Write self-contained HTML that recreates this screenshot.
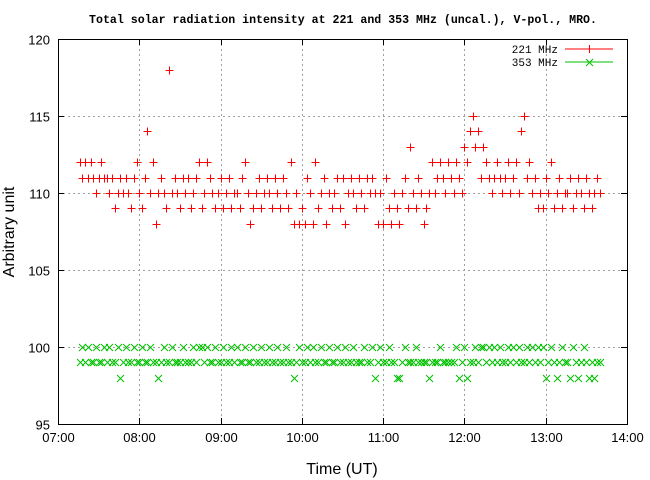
<!DOCTYPE html>
<html><head><meta charset="utf-8"><style>
html,body{margin:0;padding:0;background:#fff;}
svg{display:block;font-family:"Liberation Sans",sans-serif;}
</style></head><body>
<svg id="chart" width="650" height="480" viewBox="0 0 650 480">
<rect x="0" y="0" width="650" height="480" fill="#fff"/>
<text x="343" y="23" text-anchor="middle" font-family="Liberation Mono, monospace" font-weight="bold" font-size="11.6">Total solar radiation intensity at 221 and 353 MHz (uncal.), V-pol., MRO.</text>
<g id="grid"></g>
<g id="axes"></g>
<g id="s353"></g>
<g id="s221"></g>
<text transform="translate(14,232) rotate(-90)" text-anchor="middle" font-size="16">Arbitrary unit</text>
<text x="342" y="474" text-anchor="middle" font-size="16">Time (UT)</text>
<g>
<g>
<text x="558" y="53" text-anchor="end" font-family="Liberation Mono, monospace" font-size="11">221 MHz</text>
<line x1="565" y1="49" x2="613" y2="49" stroke="#ff0000"/>
<path d="M585.5 49h8M589.5 45v8" stroke="#ff0000"/>
</g>
<g>
<text x="558" y="66" text-anchor="end" font-family="Liberation Mono, monospace" font-size="11">353 MHz</text>
<line x1="565" y1="62" x2="613" y2="62" stroke="#00c000"/>
<path d="M586 59l7 7M586 66l7 -7" stroke="#00c000"/>
</g>
</g>
</svg>
<script>
const yTicks=[95,100,105,110,115,120];
const xTickLabels=["07:00","08:00","09:00","10:00","11:00","12:00","13:00","14:00"];
const startMinute=7*60+16;
const stepMinutes=2;
const red221=[112,111,112,111,112,111,110,111,112,111,
111,110,111,109,110,111,110,111,110,109,
111,112,110,109,111,114,110,112,108,110,
111,110,109,118,110,111,110,109,111,110,
111,109,110,111,112,109,110,112,111,110,
109,110,111,109,110,111,109,110,110,109,
111,112,110,108,109,110,111,109,110,111,
110,109,111,110,109,111,110,109,112,108,
110,108,109,108,111,110,108,112,109,110,
111,108,110,109,110,111,109,111,108,110,
111,110,109,111,110,109,111,110,111,110,
108,110,108,111,109,108,110,109,108,110,
111,109,113,110,109,111,110,108,109,110,
112,110,111,112,111,110,112,111,110,112,
111,110,113,112,114,115,113,114,111,113,
112,111,110,111,112,111,110,111,112,110,
111,112,110,114,115,111,112,110,111,109,
110,109,111,110,112,109,110,111,109,110,
110,111,109,110,111,110,109,111,110,109,
110,111,110];
const green353=[99,100,99,100,99,99,100,99,99,100,
99,100,99,99,100,98,99,100,99,99,
100,99,99,100,99,99,100,99,99,98,
99,100,99,99,100,99,99,99,100,99,
99,99,100,99,100,100,99,100,99,99,
100,99,99,100,99,99,100,99,100,99,
99,100,99,99,100,99,99,100,99,99,
100,99,99,100,99,99,100,99,99,98,
99,100,99,99,100,99,100,99,99,100,
99,99,100,99,99,100,99,99,100,99,
99,100,99,99,99,100,99,99,100,98,
99,100,99,99,100,99,99,98,98,99,
100,99,99,99,100,99,99,99,99,98,
99,99,99,100,99,99,99,99,99,100,
98,99,100,98,99,99,100,99,100,100,
99,100,99,100,99,100,99,99,100,99,
100,99,100,99,99,100,99,100,99,100,
99,100,98,99,100,99,98,99,100,99,
99,98,100,99,98,99,100,99,98,99,
98,99,99];
const X0=58,X1=627,Y0=424,Y1=39;
const xMin=7*60,xMax=14*60,yMin=95,yMax=120;
function xs(m){return X0+(m-xMin)/(xMax-xMin)*(X1-X0);}
function ys(v){return Y0-(v-yMin)/(yMax-yMin)*(Y0-Y1);}
const NS="http://www.w3.org/2000/svg";
function mk(tag,attrs,parent){const e=document.createElementNS(NS,tag);for(const k in attrs)e.setAttribute(k,attrs[k]);parent.appendChild(e);return e;}
const grid=document.getElementById('grid'),axes=document.getElementById('axes');
yTicks.forEach((v,i)=>{
  const y=Math.round(ys(v))+0.5;
  if(i>0&&i<yTicks.length-1){
    const g=mk('line',{x1:X0,x2:X1,y1:y,y2:y,stroke:'#a0a0a0','stroke-dasharray':'2,3'},grid);
    
    
  }
  const t=mk('text',{x:50,y:y+5,'text-anchor':'end','font-size':'13'},axes);
  t.textContent=String(v);
  
  
  mk('line',{x1:X0,x2:X0+6,y1:y,y2:y,stroke:'#000'},axes);
  mk('line',{x1:X1-6,x2:X1,y1:y,y2:y,stroke:'#000'},axes);
});
xTickLabels.forEach((lab,i)=>{
  const x=Math.round(xs(xMin+i*60))+0.5;
  if(i>0&&i<xTickLabels.length-1){
    const g=mk('line',{x1:x,x2:x,y1:Y1,y2:Y0,stroke:'#a0a0a0','stroke-dasharray':'2,3'},grid);
    
    
  }
  const t=mk('text',{x:x,y:442,'text-anchor':'middle','font-size':'13'},axes);
  t.textContent=lab;
  
  
  mk('line',{x1:x,x2:x,y1:Y0,y2:Y0-6,stroke:'#000'},axes);
  mk('line',{x1:x,x2:x,y1:Y1,y2:Y1+6,stroke:'#000'},axes);
});
const frame=mk('rect',{x:X0+0.5,y:Y1+0.5,width:X1-X0,height:Y0-Y1,fill:'none',stroke:'#000'},axes);


const g221=document.getElementById('s221'),g353=document.getElementById('s353');
red221.forEach((v,i)=>{
  const x=Math.round(xs(startMinute+i*stepMinutes))+0.5,y=Math.round(ys(v))+0.5;
  const p=mk('path',{d:`M${x-4} ${y}h8M${x} ${y-4}v8`,stroke:'#ff0000'},g221);
  
  
});
green353.forEach((v,i)=>{
  const x=Math.round(xs(startMinute+i*stepMinutes))+0.5,y=Math.round(ys(v))+0.5;
  const p=mk('path',{d:`M${x-3.5} ${y-3.5}l7 7M${x-3.5} ${y+3.5}l7 -7`,stroke:'#00c000'},g353);
  
  
});
</script>
</body></html>
